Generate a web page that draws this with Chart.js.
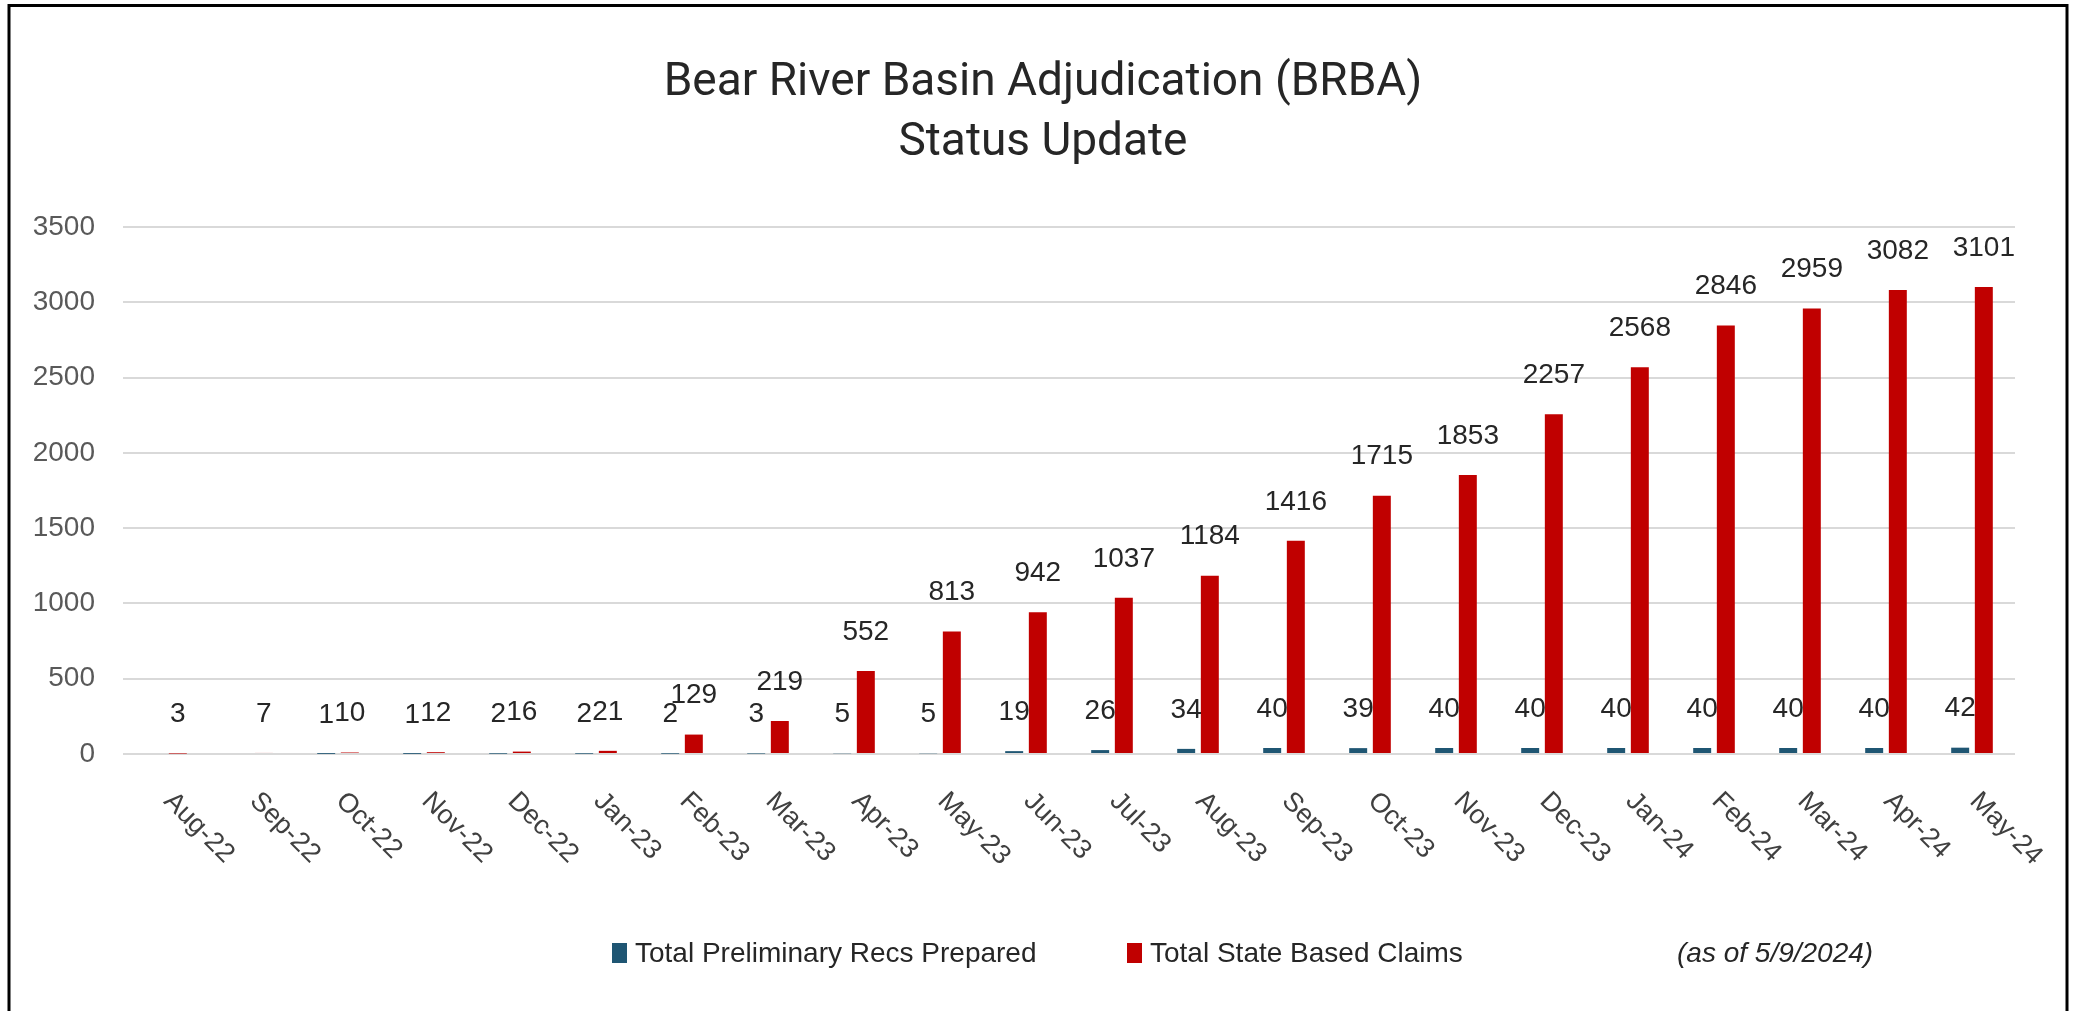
<!DOCTYPE html>
<html>
<head>
<meta charset="utf-8">
<script src="https://cdn.jsdelivr.net/npm/chart.js@4/dist/chart.umd.min.js"></script>
<style>
  html, body { margin: 0; padding: 0; background: #ffffff; overflow: hidden; }
  #wrap { width: 2074px; height: 1011px; }
</style>
</head>
<body>
<div id="wrap"><canvas id="c" width="2074" height="1011"></canvas></div>
<script>
// ---- Data ----
const categories = ['Aug-22','Sep-22','Oct-22','Nov-22','Dec-22','Jan-23','Feb-23','Mar-23','Apr-23','May-23','Jun-23','Jul-23','Aug-23','Sep-23','Oct-23','Nov-23','Dec-23','Jan-24','Feb-24','Mar-24','Apr-24','May-24'];
const prelimRecs = [null, null, 1, 1, 2, 2, 2, 3, 5, 5, 19, 26, 34, 40, 39, 40, 40, 40, 40, 40, 40, 42];
const stateClaims = [3, 7, 10, 12, 16, 21, 129, 219, 552, 813, 942, 1037, 1184, 1416, 1715, 1853, 2257, 2568, 2846, 2959, 3082, 3101];
const yTicks = [0, 500, 1000, 1500, 2000, 2500, 3000, 3500];
const seriesNames = ['Total Preliminary Recs Prepared', 'Total State Based Claims'];
const titleLines = ['Bear River Basin Adjudication (BRBA)', 'Status Update'];
const noteText = '(as of 5/9/2024)';

const BLUE = '#1F5673';
const RED = '#C00000';
const FONT = '"Liberation Sans", Arial, sans-serif';

const extras = {
  id: 'extras',
  beforeDraw(chart) {
    const ctx = chart.ctx;
    ctx.save();
    ctx.fillStyle = '#ffffff';
    ctx.fillRect(0, 0, chart.width, chart.height);
    ctx.restore();
  },
  afterDatasetsDraw(chart) {
    const ctx = chart.ctx;
    ctx.save();
    ctx.font = '28px ' + FONT;
    ctx.fillStyle = '#262626';
    ctx.textAlign = 'center';
    ctx.textBaseline = 'middle';
    chart.data.datasets.forEach((ds, di) => {
      const meta = chart.getDatasetMeta(di);
      meta.data.forEach((bar, i) => {
        const v = ds.data[i];
        if (v === null || v === undefined) return;
        ctx.fillText(String(v), bar.x, bar.y - 39);
      });
    });
    ctx.restore();
  },
  afterDraw(chart) {
    const ctx = chart.ctx;
    const xs = chart.scales.x;
    ctx.save();
    // x labels rotated 45deg clockwise
    ctx.font = '27px ' + FONT;
    ctx.fillStyle = '#404040';
    ctx.textAlign = 'left';
    ctx.textBaseline = 'middle';
    categories.forEach((lab, i) => {
      const x = xs.getPixelForTick(i) + 2;
      const y = 797;
      ctx.save();
      ctx.translate(x, y);
      ctx.rotate(Math.PI / 4);
      ctx.fillText(lab, 0, 0);
      ctx.restore();
    });
    // title
    ctx.font = '46px Roboto, ' + FONT;
    ctx.fillStyle = '#262626';
    ctx.textAlign = 'center';
    ctx.textBaseline = 'middle';
    ctx.fillText(titleLines[0], 1043, 83);
    ctx.fillText(titleLines[1], 1043, 143);
    // legend
    ctx.font = '28px ' + FONT;
    ctx.textAlign = 'left';
    ctx.fillStyle = BLUE;
    ctx.fillRect(612, 943, 15, 20);
    ctx.fillStyle = '#262626';
    ctx.fillText(seriesNames[0], 635, 954);
    ctx.fillStyle = RED;
    ctx.fillRect(1127, 943, 15, 20);
    ctx.fillStyle = '#262626';
    ctx.fillText(seriesNames[1], 1150, 954);
    ctx.font = 'italic 28px ' + FONT;
    ctx.fillText(noteText, 1677, 954);
    // border
    ctx.strokeStyle = '#000000';
    ctx.lineWidth = 3;
    ctx.strokeRect(9, 5.5, 2058, 1030);
    ctx.restore();
  }
};

new Chart(document.getElementById('c'), {
  type: 'bar',
  data: {
    labels: categories,
    datasets: [
      { label: seriesNames[0], data: prelimRecs, backgroundColor: BLUE, categoryPercentage: 0.55, barPercentage: 0.76 },
      { label: seriesNames[1], data: stateClaims, backgroundColor: RED, categoryPercentage: 0.55, barPercentage: 0.76 }
    ]
  },
  options: {
    responsive: false,
    animation: false,
    devicePixelRatio: 1,
    layout: { padding: { top: 227, bottom: 257, left: 0, right: 59 } },
    plugins: { legend: { display: false }, tooltip: { enabled: false }, title: { display: false } },
    scales: {
      x: {
        grid: { display: false },
        border: { display: false },
        ticks: { display: false },
        afterFit(s) { s.height = 0; }
      },
      y: {
        min: yTicks[0],
        max: yTicks[yTicks.length - 1],
        afterBuildTicks(s) { s.ticks = yTicks.map(v => ({ value: v })); },
        ticks: { color: '#595959', font: { family: FONT, size: 28 }, padding: 28, callback: v => String(v) },
        grid: { color: '#D9D9D9', lineWidth: 2, drawTicks: false },
        border: { display: false },
        afterFit(s) { s.width = 123; }
      }
    }
  },
  plugins: [extras]
});
</script>
</body>
</html>
